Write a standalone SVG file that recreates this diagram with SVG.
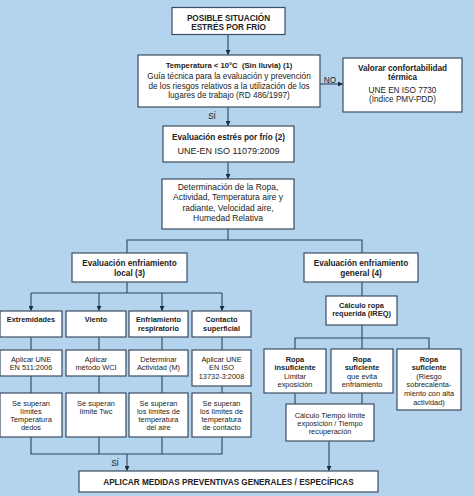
<svg xmlns="http://www.w3.org/2000/svg" width="474" height="496" viewBox="0 0 474 496">
<defs>
<style>
.bx{fill:#fff;stroke:#3a4d63;stroke-width:1.2}
.ln{fill:none;stroke:#2c4259;stroke-width:1.1}
text{font-family:"Liberation Sans",Arial,sans-serif;font-size:8.2px;fill:#222;text-anchor:middle}
.b{font-weight:bold}
.big{font-size:9px}
.det{font-size:8.5px}
.s{font-size:7.4px}
.t{font-size:7.7px;white-space:pre}
</style>
<marker id="ar" viewBox="0 0 8 8" refX="8" refY="4" markerWidth="5" markerHeight="5" orient="auto" markerUnits="userSpaceOnUse">
<path d="M0,0 L8,4 L0,8 Z" fill="#1e2f42"/>
</marker>
</defs>
<rect width="474" height="496" fill="#b4d4ee"/>

<g id="connectors">
<line class="ln" x1="228" y1="34" x2="228" y2="55" marker-end="url(#ar)"/>
<line class="ln" x1="320" y1="84" x2="343" y2="84" marker-end="url(#ar)"/>
<line class="ln" x1="228" y1="107" x2="228" y2="126" marker-end="url(#ar)"/>
<line class="ln" x1="228" y1="162" x2="228" y2="179" marker-end="url(#ar)"/>
<polyline class="ln" points="228,229 228,240"/>
<polyline class="ln" points="127,253 127,240 362,240 362,253"/>
<polyline class="ln" points="127,282 127,293"/>
<polyline class="ln" points="31,293 222,293"/>
<line class="ln" x1="31" y1="293" x2="31" y2="311" marker-end="url(#ar)"/>
<line class="ln" x1="99" y1="293" x2="99" y2="311" marker-end="url(#ar)"/>
<line class="ln" x1="162" y1="293" x2="162" y2="311" marker-end="url(#ar)"/>
<line class="ln" x1="222" y1="293" x2="222" y2="311" marker-end="url(#ar)"/>
<line class="ln" x1="31" y1="337" x2="31" y2="350"/>
<line class="ln" x1="99" y1="337" x2="99" y2="350"/>
<line class="ln" x1="162" y1="337" x2="162" y2="350"/>
<line class="ln" x1="222" y1="337" x2="222" y2="350"/>
<line class="ln" x1="31" y1="376" x2="31" y2="393"/>
<line class="ln" x1="99" y1="376" x2="99" y2="393"/>
<line class="ln" x1="162" y1="376" x2="162" y2="393"/>
<line class="ln" x1="222" y1="386" x2="222" y2="393"/>
<polyline class="ln" points="31,437 31,454 222,454 222,437"/>
<line class="ln" x1="99" y1="437" x2="99" y2="454"/>
<line class="ln" x1="162" y1="437" x2="162" y2="454"/>
<line class="ln" x1="127" y1="454" x2="127" y2="471" marker-end="url(#ar)"/>
<line class="ln" x1="362" y1="282" x2="362" y2="296"/>
<line class="ln" x1="362" y1="325" x2="362" y2="338"/>
<polyline class="ln" points="295,349 295,338 429,338 429,349"/>
<line class="ln" x1="362" y1="338" x2="362" y2="349"/>
<line class="ln" x1="295" y1="393" x2="295" y2="404"/>
<line class="ln" x1="362" y1="393" x2="362" y2="404"/>
<line class="ln" x1="329" y1="441" x2="329" y2="471" marker-end="url(#ar)"/>
<text x="330" y="83">NO</text>
<text x="212" y="119">SÍ</text>
<text x="115" y="466">SÍ</text>
</g>

<g id="n_posible">
<rect class="bx" x="172" y="7.5" width="113" height="27"/>
<text class="b" x="228.5" y="21">POSIBLE SITUACIÓN</text>
<text class="b" x="228.5" y="30">ESTRÉS POR FRÍO</text>
</g>

<g id="n_temperatura">
<rect class="bx" x="138" y="55" width="182" height="52"/>
<text class="b t" x="229" y="68">Temperatura &lt; 10°C  (Sin lluvia) (1)</text>
<text x="229" y="79">Guía técnica para la evaluación y prevención</text>
<text x="229" y="89">de los riesgos relativos a la utilización de los</text>
<text x="229" y="98">lugares de trabajo (RD 486/1997)</text>
</g>

<g id="n_valorar">
<rect class="bx" x="343" y="58" width="119" height="54"/>
<text class="b" x="402.5" y="71">Valorar confortabilidad</text>
<text class="b" x="402.5" y="80">térmica</text>
<text x="402.5" y="93">UNE EN ISO 7730</text>
<text x="402.5" y="102">(Índice PMV-PDD)</text>
</g>

<g id="n_evaluacion">
<rect class="bx" x="163" y="126" width="131" height="36"/>
<text class="b" x="228.5" y="140">Evaluación estrés por frío (2)</text>
<text class="big" x="228.5" y="154">UNE-EN ISO 11079:2009</text>
</g>

<g id="n_determinacion">
<rect class="bx" x="162" y="179" width="132" height="50"/>
<text class="det" x="228" y="190">Determinación de la Ropa,</text>
<text class="det" x="228" y="200">Actividad, Temperatura aire y</text>
<text class="det" x="228" y="211">radiante, Velocidad aire,</text>
<text class="det" x="228" y="221">Humedad Relativa</text>
</g>

<g id="n_local">
<rect class="bx" x="72" y="253" width="115" height="29"/>
<text class="b" x="129.5" y="266">Evaluación enfriamiento</text>
<text class="b" x="129.5" y="276">local (3)</text>
</g>

<g id="n_general">
<rect class="bx" x="304" y="253" width="114" height="29"/>
<text class="b" x="361" y="266">Evaluación enfriamiento</text>
<text class="b" x="361" y="276">general (4)</text>
</g>

<g id="n_extremidades">
<rect class="bx" x="0" y="311" width="62" height="26"/>
<text class="b s" x="31" y="322">Extremidades</text>
</g>
<g id="n_viento">
<rect class="bx" x="66" y="311" width="60" height="26"/>
<text class="b s" x="96" y="322">Viento</text>
</g>
<g id="n_enfriamiento">
<rect class="bx" x="129" y="311" width="59" height="26"/>
<text class="b s" x="158.5" y="322">Enfriamiento</text>
<text class="b s" x="158.5" y="331">respiratorio</text>
</g>
<g id="n_contacto">
<rect class="bx" x="192" y="311" width="59" height="26"/>
<text class="b s" x="221.5" y="322">Contacto</text>
<text class="b s" x="221.5" y="331">superficial</text>
</g>

<g id="n_une511">
<rect class="bx" x="0" y="350" width="62" height="26"/>
<text class="s" x="31" y="362">Aplicar UNE</text>
<text class="s" x="31" y="370">EN 511:2006</text>
</g>
<g id="n_wci">
<rect class="bx" x="66" y="350" width="60" height="26"/>
<text class="s" x="96" y="362">Aplicar</text>
<text class="s" x="96" y="370">método WCI</text>
</g>
<g id="n_determinar">
<rect class="bx" x="129" y="350" width="59" height="26"/>
<text class="s" x="158.5" y="362">Determinar</text>
<text class="s" x="158.5" y="370">Actividad (M)</text>
</g>
<g id="n_une13732">
<rect class="bx" x="192" y="350" width="59" height="36"/>
<text class="s" x="221.5" y="362">Aplicar UNE</text>
<text class="s" x="221.5" y="370">EN ISO</text>
<text class="s" x="221.5" y="379">13732-3:2008</text>
</g>

<g id="n_sup_dedos">
<rect class="bx" x="0" y="393" width="62" height="44"/>
<text class="s" x="31" y="406">Se superan</text>
<text class="s" x="31" y="414">límites</text>
<text class="s" x="31" y="422">Temperatura</text>
<text class="s" x="31" y="430">dedos</text>
</g>
<g id="n_sup_twc">
<rect class="bx" x="66" y="393" width="60" height="44"/>
<text class="s" x="96" y="406">Se superan</text>
<text class="s" x="96" y="414">límite Twc</text>
</g>
<g id="n_sup_aire">
<rect class="bx" x="129" y="393" width="59" height="44"/>
<text class="s" x="158.5" y="406">Se superan</text>
<text class="s" x="158.5" y="414">los límites de</text>
<text class="s" x="158.5" y="422">temperatura</text>
<text class="s" x="158.5" y="430">del aire</text>
</g>
<g id="n_sup_contacto">
<rect class="bx" x="192" y="393" width="59" height="44"/>
<text class="s" x="221.5" y="406">Se superan</text>
<text class="s" x="221.5" y="414">los límites de</text>
<text class="s" x="221.5" y="422">temperatura</text>
<text class="s" x="221.5" y="430">de contacto</text>
</g>

<g id="n_ireq">
<rect class="bx" x="326" y="296" width="71" height="29"/>
<text class="b s" x="361.5" y="308">Cálculo ropa</text>
<text class="b s" x="361.5" y="316">requerida (IREQ)</text>
</g>

<g id="n_insuficiente">
<rect class="bx" x="264" y="349" width="62" height="44"/>
<text class="b s" x="295" y="362">Ropa</text>
<text class="b s" x="295" y="370">insuficiente</text>
<text class="s" x="295" y="379">Limitar</text>
<text class="s" x="295" y="387">exposición</text>
</g>
<g id="n_suficiente">
<rect class="bx" x="331" y="349" width="62" height="44"/>
<text class="b s" x="362" y="362">Ropa</text>
<text class="b s" x="362" y="370">suficiente</text>
<text class="s" x="362" y="379">que evita</text>
<text class="s" x="362" y="387">enfriamiento</text>
</g>
<g id="n_suficiente_riesgo">
<rect class="bx" x="397" y="349" width="64" height="61"/>
<text class="b s" x="429" y="362">Ropa</text>
<text class="b s" x="429" y="370">suficiente</text>
<text class="s" x="429" y="379">(Riesgo</text>
<text class="s" x="429" y="387">sobrecalenta-</text>
<text class="s" x="429" y="396">miento con alta</text>
<text class="s" x="429" y="405">actividad)</text>
</g>

<g id="n_tiempo">
<rect class="bx" x="286" y="404" width="88" height="37"/>
<text class="s" x="330" y="418">Cálculo Tiempo límite</text>
<text class="s" x="330" y="426">exposición / Tiempo</text>
<text class="s" x="330" y="434">recuperación</text>
</g>

<g id="n_aplicar">
<rect class="bx" x="79" y="471" width="299" height="21"/>
<text class="b" x="228.5" y="485">APLICAR MEDIDAS PREVENTIVAS GENERALES / ESPECÍFICAS</text>
</g>
</svg>
